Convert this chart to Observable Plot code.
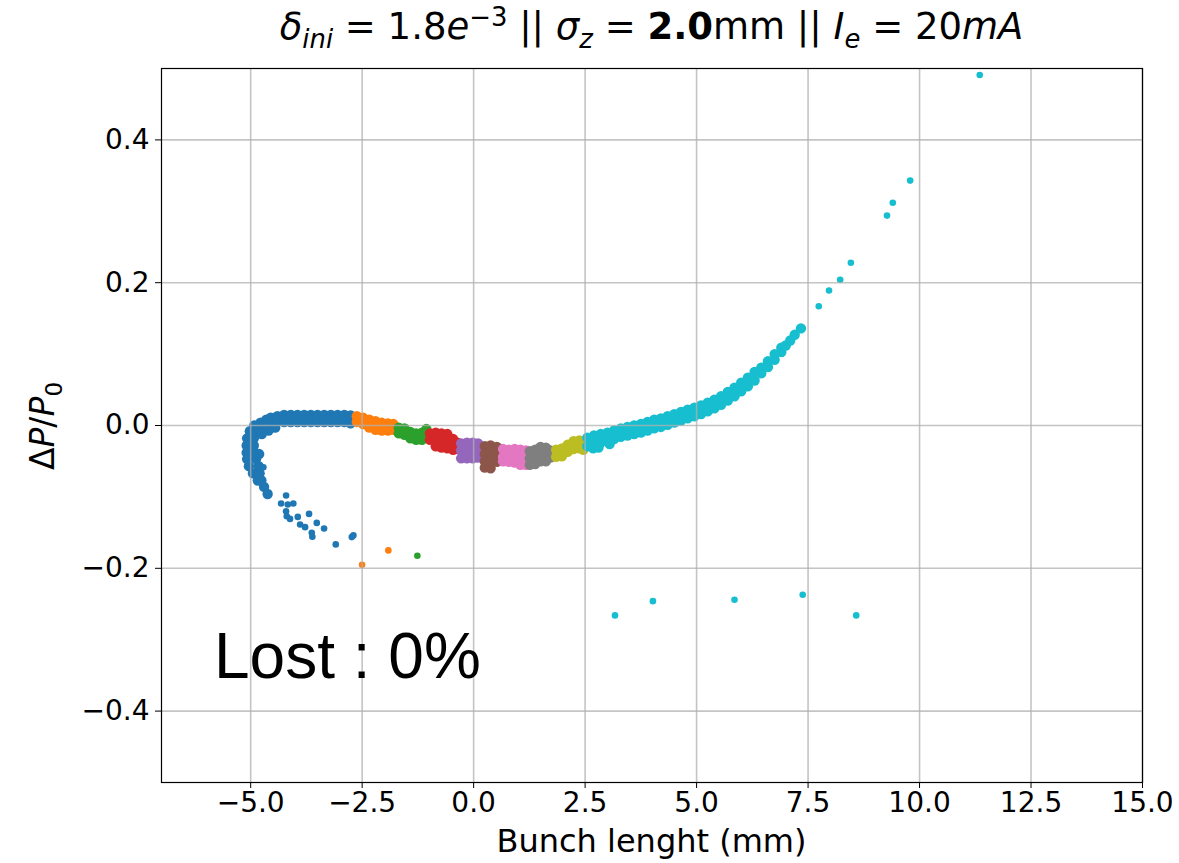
<!DOCTYPE html>
<html><head><meta charset="utf-8">
<script src="https://cdn.jsdelivr.net/npm/d3@7"></script>
<script src="https://cdn.jsdelivr.net/npm/@observablehq/plot@0.6"></script>
<style>
body{margin:0;background:#fff;}
#wrap{position:relative;width:1179px;height:863px;font-family:"DejaVu Sans",sans-serif;color:#000;}
#wrap svg{position:absolute;left:0;top:0;}
.lbl{position:absolute;white-space:nowrap;}
#title{left:161px;width:981px;top:2px;text-align:center;font-size:37px;}
#title sub,#title sup{font-size:0.7em;}
#xlabel{left:161px;width:981px;top:822px;text-align:center;font-size:32px;}
#ylabel{left:45px;top:426px;font-size:33px;transform:translate(-50%,-50%) rotate(-90deg);}
#lost{left:214px;top:619px;font-family:"Liberation Sans",Arial,sans-serif;font-size:64px;}
</style></head><body>
<div id="wrap">
<div class="lbl" id="title"><i>δ</i><sub><i>ini</i></sub> = 1.8<i>e</i><sup>−3</sup> || <i>σ</i><sub><i>z</i></sub> = <b>2.0</b>mm || <i>I</i><sub><i>e</i></sub> = 20<i>mA</i></div>
<div class="lbl" id="xlabel">Bunch lenght (mm)</div>
<div class="lbl" id="ylabel">Δ<i>P</i>/<i>P</i><sub style="font-size:0.7em">0</sub></div>
<div class="lbl" id="lost">Lost : 0%</div>
</div>
<script>
// axis ticks
const xTicks = [-5, -2.5, 0, 2.5, 5, 7.5, 10, 12.5, 15];
const yTicks = [-0.4, -0.2, 0, 0.2, 0.4];
const sliceColors = ["#1f77b4","#ff7f0e","#2ca02c","#d62728","#9467bd","#8c564b","#e377c2","#7f7f7f","#bcbd22","#17becf"];

// dense core of each slice [x (mm), dP/P0]
const bandBlue = [
 [-5.02,-0.008],[-4.86,-0.008],[-4.70,-0.006],[-4.92,0.000],[-4.78,0.004],[-4.65,0.008],
 [-4.45,-0.003],[-4.60,-0.007],[-4.75,-0.012],
 [-5.08,-0.018],[-4.93,-0.018],[-5.09,-0.028],[-4.93,-0.028],[-5.09,-0.038],[-4.91,-0.038],
 [-5.08,-0.047],[-4.88,-0.047],[-5.04,-0.057],[-4.82,-0.057],[-4.95,-0.067],[-4.80,-0.067],
 [-4.84,-0.077],[-4.76,-0.077],[-4.70,-0.086],[-4.62,-0.096],[-4.81,-0.040],
 [-4.55,0.011],[-4.55,0.004],[-4.40,0.013],[-4.40,0.005],[-4.25,0.0147],[-4.25,0.0049],
 [-4.10,0.0147],[-4.10,0.0049],[-3.95,0.0147],[-3.95,0.0049],[-3.80,0.0147],[-3.80,0.0049],
 [-3.65,0.0147],[-3.65,0.0049],[-3.50,0.0147],[-3.50,0.0049],[-3.35,0.0147],[-3.35,0.0049],
 [-3.20,0.0147],[-3.20,0.0049],[-3.05,0.0147],[-3.05,0.0049],[-2.90,0.0147],[-2.90,0.0049],
 [-2.76,0.014],[-2.76,0.003]
];
const bandOrange = [
 [-2.62,0.013],[-2.62,0.005],[-2.48,0.011],[-2.48,0.002],[-2.34,0.008],[-2.34,-0.003],
 [-2.20,0.006],[-2.20,-0.006],[-2.06,0.004],[-2.06,-0.007],[-1.92,0.003],[-1.92,-0.007],
 [-1.80,0.002],[-1.80,-0.006]
];
const bandGreen = [
 [-1.68,-0.003],[-1.68,-0.011],[-1.55,-0.004],[-1.55,-0.013],[-1.42,-0.009],[-1.42,-0.018],
 [-1.29,-0.011],[-1.29,-0.020],[-1.16,-0.010],[-1.16,-0.020],[-1.06,-0.005],[-1.06,-0.016]
];
const bandRed = [
 [-0.98,-0.011],[-0.98,-0.020],[-0.85,-0.010],[-0.85,-0.020],[-0.85,-0.029],
 [-0.72,-0.011],[-0.72,-0.021],[-0.72,-0.031],[-0.59,-0.012],[-0.59,-0.022],[-0.59,-0.032],
 [-0.46,-0.019],[-0.46,-0.029],[-0.46,-0.034],[-0.36,-0.024],[-0.36,-0.033]
];
const bandPurple = [
 [-0.28,-0.025],[-0.28,-0.035],[-0.28,-0.046],[-0.15,-0.024],[-0.15,-0.035],[-0.15,-0.046],
 [-0.02,-0.024],[-0.02,-0.035],[-0.02,-0.046],[0.10,-0.025],[0.10,-0.035],[0.10,-0.045]
];
const bandBrown = [
 [0.25,-0.029],[0.25,-0.040],[0.25,-0.050],[0.25,-0.059],[0.38,-0.028],[0.38,-0.039],
 [0.38,-0.050],[0.38,-0.060],[0.52,-0.030],[0.52,-0.040],[0.52,-0.051],[0.60,-0.033],[0.60,-0.044]
];
const bandPink = [
 [0.66,-0.033],[0.66,-0.044],[0.66,-0.050],[0.79,-0.034],[0.79,-0.045],[0.79,-0.051],
 [0.92,-0.033],[0.92,-0.043],[0.92,-0.052],[1.05,-0.034],[1.05,-0.045],[1.05,-0.055],
 [1.17,-0.035],[1.17,-0.046],[1.17,-0.055]
];
const bandGray = [
 [1.26,-0.036],[1.26,-0.046],[1.26,-0.055],[1.38,-0.034],[1.38,-0.044],[1.38,-0.054],
 [1.50,-0.030],[1.50,-0.040],[1.50,-0.050],[1.62,-0.031],[1.62,-0.041],[1.62,-0.050],
 [1.72,-0.035],[1.72,-0.045]
];
const bandOlive = [
 [1.85,-0.034],[1.85,-0.044],[1.98,-0.032],[1.98,-0.043],[2.11,-0.027],[2.11,-0.037],
 [2.24,-0.022],[2.24,-0.033],[2.37,-0.021],[2.37,-0.032],[2.46,-0.022],[2.46,-0.034]
];
const bandCyan = [
 [2.55,-0.017],[2.55,-0.029],[2.70,-0.014],[2.70,-0.026],[2.85,-0.012],[2.85,-0.024],
 [3.00,-0.010],[3.00,-0.022],[3.15,-0.007],[3.15,-0.019],[3.30,-0.004],[3.30,-0.016],
 [3.45,-0.002],[3.45,-0.014],[3.60,0.000],[3.60,-0.012],[3.75,0.002],[3.75,-0.010],
 [3.90,0.005],[3.90,-0.007],[4.05,0.008],[4.05,-0.004],[4.20,0.010],[4.20,-0.002],
 [4.35,0.013],[4.35,0.001],[4.50,0.016],[4.50,0.004],[4.65,0.019],[4.65,0.007],
 [4.80,0.022],[4.80,0.010],[4.95,0.025],[4.95,0.013],[5.10,0.028],[5.10,0.016],
 [5.25,0.032],[5.25,0.020],[5.40,0.036],[5.40,0.024],[5.55,0.041],[5.55,0.029],
 [5.70,0.047],[5.70,0.035],[5.85,0.053],[5.85,0.041],[6.00,0.060],[6.00,0.048],
 [6.15,0.067],[6.15,0.055],[6.30,0.075],[6.30,0.063],[6.45,0.081],[6.45,0.073],
 [6.60,0.090],[6.60,0.082],[6.75,0.100],[6.75,0.092],[6.90,0.109],[6.90,0.103],
 [7.00,0.112],[7.10,0.119],[7.20,0.127],[7.34,0.136],
 [2.68,-0.032],[2.80,-0.031],[3.05,-0.026]
];
// scattered particles of each slice
const strayBlue = [
 [-4.805,-0.0387],[-4.715,-0.0586],[-4.206,-0.0981],[-4.318,-0.1093],[-4.168,-0.1107],
 [-4.043,-0.1093],[-4.206,-0.1200],[-4.191,-0.1270],[-4.117,-0.1308],[-3.944,-0.1280],
 [-3.691,-0.1238],[-3.892,-0.1386],[-3.780,-0.1424],[-3.518,-0.1364],[-3.354,-0.1442],
 [-3.630,-0.1503],[-3.617,-0.1559],[-3.092,-0.1665],[-2.733,-0.1563],[-2.697,-0.1539]
];
const strayOrange = [[-1.913,-0.1749],[-2.502,-0.1950]];
const strayGreen = [[-1.262,-0.1824]];
const strayCyan = [
 [7.74,0.167],[7.97,0.189],[8.22,0.204],[8.46,0.228],[9.27,0.294],[9.40,0.312],
 [9.79,0.343],[11.35,0.491],[3.17,-0.266],[4.02,-0.246],[5.85,-0.244],[7.38,-0.237],[8.58,-0.266]
];

const bands = [bandBlue, bandOrange, bandGreen, bandRed, bandPurple, bandBrown, bandPink, bandGray, bandOlive, bandCyan];
const strays = [strayBlue, strayOrange, strayGreen, [], [], [], [], [], [], strayCyan];

const rows = [];
bands.forEach((b, i) => {
  b.forEach(([x, y]) => rows.push({x, y, s: i, kind: "band"}));
  strays[i].forEach(([x, y]) => rows.push({x, y, s: i, kind: "stray"}));
});

const fmt = d3.format(".1f");
const chart = Plot.plot({
  width: 1179, height: 863,
  marginLeft: 161, marginRight: 37, marginTop: 68, marginBottom: 81,
  style: {fontFamily: "DejaVu Sans", fontSize: "28px", color: "#000", background: "transparent"},
  x: {domain: [-7, 15]},
  y: {domain: [-0.5, 0.5]},
  color: {type: "ordinal", domain: d3.range(10), range: sliceColors},
  marks: [
    Plot.dot(rows.filter(d => d.kind === "band"), {x: "x", y: "y", r: 5.2, fill: "s", stroke: null}),
    Plot.dot(rows.filter(d => d.kind === "stray"), {x: "x", y: "y", r: 3.3, fill: "s", stroke: null}),
    Plot.gridX(xTicks, {stroke: "#b0b0b0", strokeOpacity: 0.75, strokeWidth: 1.6}),
    Plot.gridY(yTicks, {stroke: "#b0b0b0", strokeOpacity: 0.75, strokeWidth: 1.6}),
    Plot.frame({stroke: "#000", strokeWidth: 1.2}),
    Plot.axisX(xTicks, {tickFormat: fmt, tickSize: 6, tickPadding: 4, label: null, fontSize: 28}),
    Plot.axisY(yTicks, {tickFormat: fmt, tickSize: 6, tickPadding: 6, label: null, fontSize: 28})
  ]
});
document.getElementById("wrap").prepend(chart);
</script>
</body></html>
